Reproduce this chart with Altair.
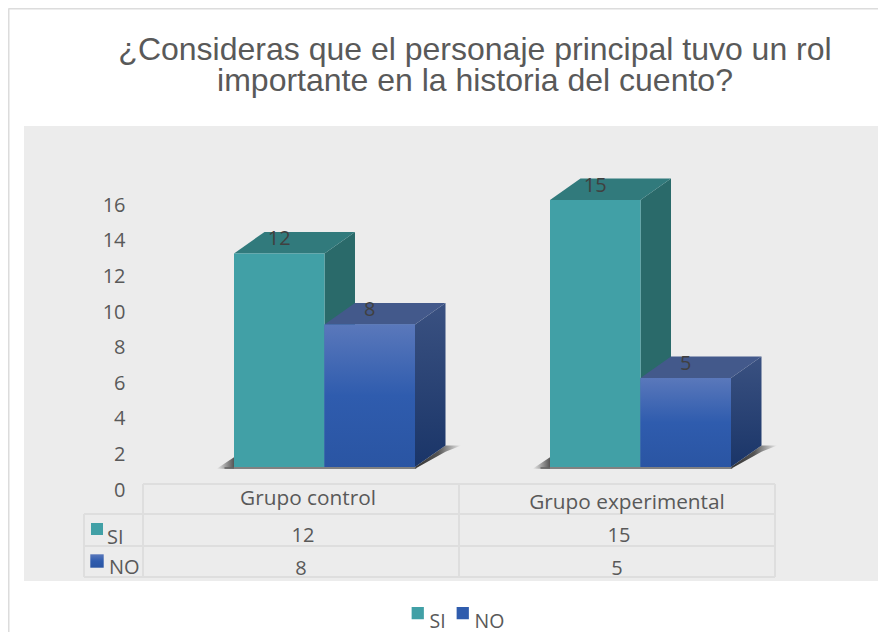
import altair as alt
import pandas as pd

title_lines = ["¿Consideras que el personaje principal tuvo un rol",
               "importante en la historia del cuento?\u00a0\u00a0"]
groups = ["Grupo control", "Grupo experimental"]
series = ["SI", "NO"]
si_values = [12, 15]
no_values = [8, 5]
y_ticks = [0, 2, 4, 6, 8, 10, 12, 14, 16]

# Layout: one x unit is one table column, one y unit is one value unit.
W, H = 870, 624
COL = 316.0
UNIT = 17.8
def X(px): return (px - 143) / COL
def Y(py): return (467 - py) / UNIT

BAR_START = 91 / COL
BAR_W = 90.5 / COL
DX = 30.5 / COL
DY = 21.5 / UNIT

TEXT = "#595959"
GRID = "#dedede"
FONT = "Open Sans"
TEAL, TEAL_TOP, TEAL_SIDE = "#41a0a6", "#317a7c", "#2a6a6a"
BLUE = "#2f5cad"

def vgrad(*cols):
    n = len(cols) - 1
    return alt.LinearGradient(gradient="linear", x1=0, x2=0, y1=0, y2=1,
                              stops=[alt.GradientStop(color=c, offset=i / n) for i, c in enumerate(cols)])
def hgrad(*cols):
    n = len(cols) - 1
    return alt.LinearGradient(gradient="linear", x1=0, x2=1, y1=0, y2=0,
                              stops=[alt.GradientStop(color=c, offset=i / n) for i, c in enumerate(cols)])

xenc = alt.X("x:Q", axis=None, scale=alt.Scale(domain=[X(8), X(8 + W)], nice=False, zero=False))
yenc = alt.Y("y:Q", stack=None, title=None,
             scale=alt.Scale(domain=[Y(8 + H), Y(8)], nice=False, zero=False),
             axis=alt.Axis(values=y_ticks, format="d", domain=False, ticks=False, grid=False,
                           labelFont=FONT, labelFontSize=20, labelColor=TEXT, labelPadding=0,
                           labelOffset=23, offset=-117, zindex=1))

# Tidy bar table
rows = []
for g in range(2):
    for s, vals in enumerate([si_values, no_values]):
        x0 = g + BAR_START + s * BAR_W
        rows.append(dict(id=f"{g}{s}", g=g, s=series[s], v=vals[g], x0=x0, x1=x0 + BAR_W))

def front(r): return [dict(id=r["id"], s=r["s"], x=r["x0"], x2=r["x1"], y=0, y2=r["v"])]
def side(r):
    return [dict(id=r["id"], x=r["x1"], y=0, y2=r["v"]),
            dict(id=r["id"], x=r["x1"] + DX, y=DY, y2=r["v"] + DY)]
def top(r):
    v = r["v"]
    return [dict(id=r["id"], x=r["x0"], y=v, y2=v),
            dict(id=r["id"], x=r["x0"] + DX, y=v, y2=v + DY),
            dict(id=r["id"], x=r["x1"], y=v, y2=v + DY),
            dict(id=r["id"], x=r["x1"] + DX, y=v + DY, y2=v + DY)]
def collect(fn, s=None):
    return pd.DataFrame([p for r in rows if s is None or r["s"] == s for p in fn(r)])

def area_layer(df, fill):
    return alt.Chart(df).mark_area(fill=fill, orient="vertical", interpolate="linear", opacity=1).encode(
        x=xenc, y=yenc, y2="y2:Q", detail="id:N")

def rect_layer(df, **kw):
    return alt.Chart(df).mark_rect(**kw).encode(x=xenc, x2="x2:Q", y=yenc, y2="y2:Q")

# panel and outer frame
panel = rect_layer(pd.DataFrame([dict(x=X(24), x2=X(8 + W), y=Y(581), y2=Y(126))]), fill="#ececec")
frame_df = pd.DataFrame([dict(x=X(8.5), x2=X(8.5), y=Y(8 + H), y2=Y(8.5)),
                         dict(x=X(8.5), x2=X(8 + W), y=Y(8.5), y2=Y(8.5))])
frame = alt.Chart(frame_df).mark_rule(color="#dcdcdc", strokeWidth=2).encode(x=xenc, x2="x2:Q", y=yenc, y2="y2:Q")

# shadows below each bar pair
sh_left, sh_right, sh_line = [], [], []
for g in range(2):
    x0 = g + BAR_START
    x1 = x0 + 2 * BAR_W
    sh_left += [dict(id=g, x=x0 - 0.055, y=-0.1, y2=-0.1), dict(id=g, x=x0, y=-0.1, y2=0.55)]
    sh_right += [dict(id=g, x=x1, y=-0.1, y2=0),
                 dict(id=g, x=x1 + DX, y=DY - 0.35, y2=DY),
                 dict(id=g, x=x1 + DX + 0.05, y=DY, y2=DY)]
    sh_line.append(dict(x=x0 - 0.03, x2=x1 + 0.004, y=-0.06, y2=-0.06))
shadow_l = area_layer(pd.DataFrame(sh_left), hgrad("#ececec", "#555555"))
shadow_r = area_layer(pd.DataFrame(sh_right), hgrad("#333333", "#555555", "#ececec"))
shadow_b = alt.Chart(pd.DataFrame(sh_line)).mark_rule(color="#666666", strokeWidth=2, opacity=0.8).encode(
    x=xenc, x2="x2:Q", y=yenc, y2="y2:Q")

# faces; the encoded fronts carry the legend
fronts = alt.Chart(collect(front)).mark_rect().encode(
    x=xenc, x2="x2:Q", y=yenc, y2="y2:Q",
    color=alt.Color("s:N", scale=alt.Scale(domain=series, range=[TEAL, BLUE]),
                    legend=alt.Legend(title=None, orient="none", legendX=400, legendY=595,
                                      direction="horizontal", symbolType="square", symbolSize=150,
                                      symbolStrokeWidth=0, symbolOpacity=1,
                                      labelFont=FONT, labelFontSize=19.5, labelColor=TEXT,
                                      labelBaseline="top", columnPadding=7, labelOffset=2)))
no_front = rect_layer(collect(front, "NO"), fill=vgrad("#5a78bb", "#2f5cae", "#2a55a3"))
faces = [
    area_layer(collect(side, "SI"), TEAL_SIDE),
    area_layer(collect(side, "NO"), vgrad("#3a5181", "#1a3568")),
    area_layer(collect(top, "SI"), TEAL_TOP),
    area_layer(collect(top, "NO"), "#43598b"),
]

# value labels over the bars
lab_df = pd.DataFrame([dict(x=(r["x0"] + r["x1"]) / 2, y=r["v"] + 0.8, t=str(r["v"])) for r in rows])
bar_labels = alt.Chart(lab_df).mark_text(font=FONT, fontSize=20, color="#404040").encode(x=xenc, y=yenc, text="t:N")

# data table
RY = [Y(484), Y(514), Y(546), Y(577)]
tbl = [dict(x=0, x2=2, y=RY[0], y2=RY[0])]
tbl += [dict(x=X(84), x2=2, y=r, y2=r) for r in RY[1:]]
tbl += [dict(x=c, x2=c, y=RY[0], y2=RY[3]) for c in (0, 1, 2)]
tbl += [dict(x=X(84), x2=X(84), y=RY[1], y2=RY[3])]
table = alt.Chart(pd.DataFrame(tbl)).mark_rule(color=GRID, strokeWidth=2).encode(x=xenc, x2="x2:Q", y=yenc, y2="y2:Q")

head = []
head_shift = [(7, 498.5), (10, 503)]
tt = []
for g, name in enumerate(groups):
    head.append(dict(x=g + 0.5 + head_shift[g][0] / COL, y=Y(head_shift[g][1]), t=name))
    tt.append(dict(x=g + 0.5 + 2 / COL, y=Y(535.5), t=str(si_values[g])))
    tt.append(dict(x=g + 0.5, y=Y(568.5), t=str(no_values[g])))
head_text = alt.Chart(pd.DataFrame(head)).mark_text(font=FONT, fontSize=20.8, color=TEXT).encode(x=xenc, y=yenc, text="t:N")
table_text = alt.Chart(pd.DataFrame(tt)).mark_text(font=FONT, fontSize=20, color=TEXT).encode(x=xenc, y=yenc, text="t:N")

row_lab = pd.DataFrame([dict(x=X(107), y=Y(537.5), t=series[0]), dict(x=X(109), y=Y(568), t=series[1])])
row_text = alt.Chart(row_lab).mark_text(font=FONT, fontSize=20, color=TEXT, align="left").encode(x=xenc, y=yenc, text="t:N")
sw_si = alt.Chart(pd.DataFrame([dict(x=X(97), y=Y(529))])).mark_square(size=144, fill=TEAL, opacity=1).encode(x=xenc, y=yenc)
sw_no = alt.Chart(pd.DataFrame([dict(x=X(97), y=Y(561))])).mark_square(size=180, fill=vgrad("#5a78bb", "#2f5cae", "#2a55a3"), opacity=1).encode(x=xenc, y=yenc)

chart = alt.layer(panel, frame, shadow_l, shadow_r, shadow_b, *faces, fronts, no_front, bar_labels,
                  table, head_text, table_text, row_text, sw_si, sw_no).properties(
    width=W, height=H, padding=0, autosize="none",
    background="white",
    title=alt.TitleParams(text=title_lines, font="Liberation Sans", fontSize=32, fontWeight="normal",
                          color=TEXT, anchor="middle", dx=32, offset=-90, lineHeight=31),
).configure_view(strokeWidth=0)

chart.save("out.html", embed_options={"renderer": "svg", "actions": False})
